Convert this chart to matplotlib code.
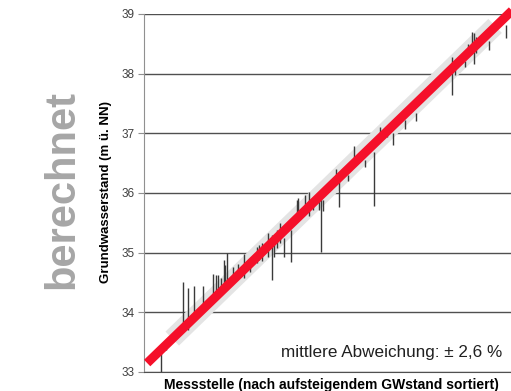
import numpy as np
import matplotlib.pyplot as plt

plt.rcParams['font.family'] = ['Liberation Sans', 'DejaVu Sans']

# gemessener GW-Stand je Messstelle (sortiert) und Spannweite der berechneten Werte
station_x = [33.27, 33.35, 33.64, 33.71, 33.82, 33.96, 34.12, 34.18, 34.21, 34.25,
             34.30, 34.32, 34.36, 34.46, 34.53, 34.64, 34.73, 34.85, 34.88, 34.93,
             35.03, 35.09, 35.13, 35.18, 35.22, 35.28, 35.41, 35.50, 35.52, 35.63,
             35.70, 35.77, 35.86, 35.89, 35.93, 36.14, 36.18, 36.34, 36.43, 36.62,
             36.76, 36.86, 36.97, 37.07, 37.27, 37.45, 38.03, 38.08, 38.25, 38.30,
             38.36, 38.39, 38.43, 38.64, 38.92]
calc_low = [33.00, 33.37, 33.68, 33.70, 33.96, 34.07, 34.24, 34.29, 34.32, 34.32,
            34.43, 34.46, 34.51, 34.49, 34.71, 34.58, 34.68, 34.83, 34.88, 34.86,
            34.93, 34.55, 34.93, 35.08, 35.16, 34.93, 34.85, 35.55, 35.60, 35.69,
            35.62, 35.71, 35.71, 35.01, 35.69, 36.16, 35.77, 36.20, 36.50, 36.44,
            35.78, 36.89, 36.94, 36.80, 37.07, 37.21, 37.64, 37.98, 38.12, 38.31,
            38.42, 38.16, 38.34, 38.40, 38.59]
calc_high = [33.40, 33.51, 34.51, 34.41, 34.44, 34.44, 34.64, 34.63, 34.63, 34.58,
             34.88, 34.79, 35.00, 34.76, 34.81, 34.98, 34.81, 35.10, 35.13, 35.16,
             35.33, 35.30, 35.26, 35.38, 35.50, 35.24, 35.38, 35.88, 35.91, 35.97,
             36.02, 35.90, 35.99, 35.99, 35.88, 36.41, 36.19, 36.30, 36.79, 36.56,
             36.69, 37.11, 37.08, 37.00, 37.22, 37.34, 38.28, 38.23, 38.22, 38.50,
             38.70, 38.68, 38.62, 38.54, 38.82]

# Ausgleichsgerade und Streuband
fit_x = [33.05, 39.02]
fit_y = [33.15, 39.06]
band_x = [33.46, 38.74]
band_y = [33.56, 38.80]

fig = plt.figure(figsize=(5.11, 3.91), dpi=100)
ax = fig.add_axes([0.282, 0.0486, 0.718, 0.9156])

ax.plot(band_x, band_y, color='#e4e4e4', lw=14, solid_capstyle='butt', zorder=1)
ax.vlines(station_x, calc_low, calc_high, colors='#3a3a3a', lw=1, zorder=2)
ax.plot(fit_x, fit_y, color='#f5102a', lw=6.5, solid_capstyle='butt', zorder=3, clip_on=False)

ax.set_xlim(33, 39)
ax.set_ylim(33, 39)
ax.set_yticks(np.arange(33, 40, 1))
ax.set_xticks([])
ax.grid(axis='y', color='#505050', lw=1)
ax.set_axisbelow(True)
for s in ['top', 'right']:
    ax.spines[s].set_visible(False)
ax.spines['left'].set_color('#909090')
ax.spines['bottom'].set_color('#505050')
ax.tick_params(axis='y', length=4, color='#909090', labelsize=8.5, labelcolor='#404040', pad=3)

fig.text(0.207, 0.51, 'Grundwasserstand (m ü. NN)', rotation=90, ha='center', va='center',
         fontsize=9.5, fontweight='bold')
fig.text(0.649, 0.016, 'Messstelle (nach aufsteigendem GWstand sortiert)', ha='center',
         va='center', fontsize=10, fontweight='bold')

ax.text(0.975, 0.055, 'mittlere Abweichung: ± 2,6 %', transform=ax.transAxes,
        ha='right', va='center', fontsize=12.3, color='#202020')

fig.text(0.122, 0.515, 'berechnet', rotation=90, ha='center', va='center',
         fontsize=30, fontweight='bold', color='#a6a6a6')

fig.savefig('out.png', dpi=100)
